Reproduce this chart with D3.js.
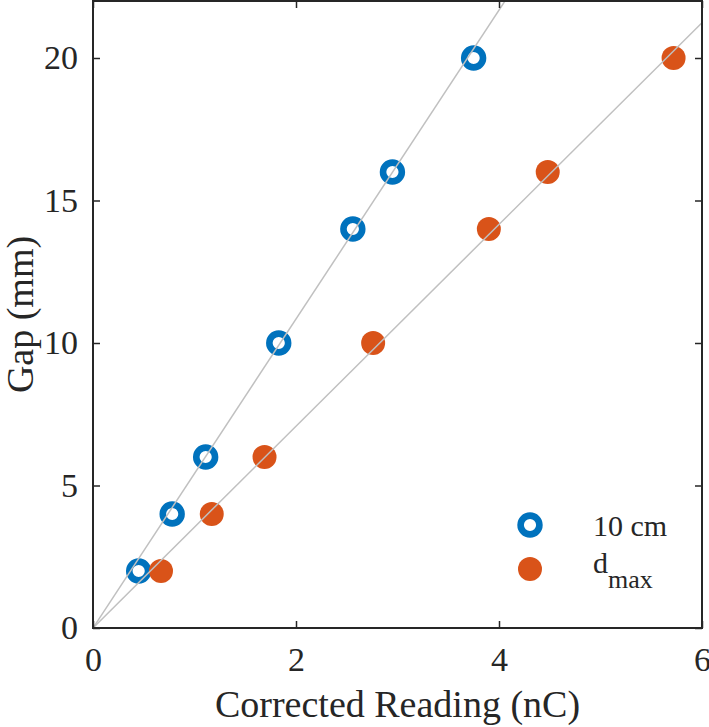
<!DOCTYPE html>
<html><head><meta charset="utf-8">
<script src="https://cdn.jsdelivr.net/npm/d3@7"></script>
<style>body{margin:0;background:#fff}svg{display:block}</style>
</head><body>
<svg id="c" width="709" height="727"></svg>
<script>
const gapMM = [2, 4, 6, 10, 14, 16, 20];
const reading10cm = [0.45, 0.78, 1.11, 1.83, 2.56, 2.95, 3.75];
const readingDmax = [0.67, 1.17, 1.69, 2.76, 3.90, 4.48, 5.72];
const fitSlopes = [5.42, 3.54];
const xTicks = [0, 2, 4, 6];
const yTicks = [0, 5, 10, 15, 20];
const seriesNames = ["10 cm", "d"];

const svg = d3.select("#c");
const m = {l: 93, r: 702, t: 1, b: 628};
const x = d3.scaleLinear().domain([0, 6]).range([m.l, m.r]);
const y = d3.scaleLinear().domain([0, 22]).range([m.b, m.t]);
const axisCol = "#262626";
const font = "'Liberation Serif','Times New Roman',serif";
const blue = "#0072BD", orange = "#D95319";

svg.append("defs").append("clipPath").attr("id", "clip")
  .append("rect").attr("x", m.l).attr("y", m.t).attr("width", m.r - m.l).attr("height", m.b - m.t);

const plot = svg.append("g").attr("clip-path", "url(#clip)");

// markers
plot.selectAll(".b").data(gapMM).enter().append("circle")
  .attr("cx", (d, i) => x(reading10cm[i])).attr("cy", d => y(d)).attr("r", 9.4)
  .attr("fill", "none").attr("stroke", blue).attr("stroke-width", 6.6);
plot.selectAll(".o").data(gapMM).enter().append("circle")
  .attr("cx", (d, i) => x(readingDmax[i])).attr("cy", d => y(d)).attr("r", 12)
  .attr("fill", orange);

// fit lines
fitSlopes.forEach(s => {
  plot.append("line").attr("x1", x(0)).attr("y1", y(0)).attr("x2", x(6)).attr("y2", y(6 * s))
    .attr("stroke", "#c0c0c0").attr("stroke-width", 1.5);
});

// axes
const xa = svg.append("g").attr("transform", `translate(0,${m.b})`)
  .call(d3.axisBottom(x).tickValues(xTicks).tickSizeInner(-7).tickSizeOuter(0).tickPadding(19).tickFormat(d3.format("d")));
const xt = svg.append("g").attr("transform", `translate(0,${m.t})`)
  .call(d3.axisTop(x).tickValues(xTicks).tickSizeInner(-7).tickSizeOuter(0).tickFormat(""));
const ya = svg.append("g").attr("transform", `translate(${m.l},0)`)
  .call(d3.axisLeft(y).tickValues(yTicks).tickSizeInner(-7).tickSizeOuter(0).tickPadding(15).tickFormat(d3.format("d")));
const yr = svg.append("g").attr("transform", `translate(${m.r},0)`)
  .call(d3.axisRight(y).tickValues(yTicks).tickSizeInner(-7).tickSizeOuter(0).tickFormat(""));
[xa, xt, ya, yr].forEach(g => {
  g.select(".domain").remove();
  g.selectAll("line").attr("stroke", axisCol).attr("stroke-width", 1.5);
  g.selectAll("text").attr("fill", axisCol).style("font-family", font).style("font-size", "34px");
});
xa.selectAll("text").attr("dy", "0.71em");
svg.append("rect").attr("x", m.l).attr("y", m.t).attr("width", m.r - m.l).attr("height", m.b - m.t)
  .attr("fill", "none").attr("stroke", axisCol).attr("stroke-width", 2);

// labels
svg.append("text").attr("x", (m.l + m.r) / 2).attr("y", 717).attr("text-anchor", "middle")
  .style("font-family", font).style("font-size", "38px").attr("fill", axisCol).text("Corrected Reading (nC)");
svg.append("text").attr("transform", `translate(33,${(m.t + m.b) / 2}) rotate(-90)`).attr("text-anchor", "middle")
  .style("font-family", font).style("font-size", "38px").attr("fill", axisCol).text("Gap (mm)");

// legend
const lg = svg.append("g");
lg.append("circle").attr("cx", 530).attr("cy", 525).attr("r", 9.4).attr("fill", "none").attr("stroke", blue).attr("stroke-width", 6.6);
lg.append("circle").attr("cx", 530).attr("cy", 569).attr("r", 12).attr("fill", orange);
lg.append("text").attr("x", 593).attr("y", 536).style("font-family", font).style("font-size", "30px").attr("fill", axisCol).text(seriesNames[0]);
const t2 = lg.append("text").attr("x", 593).attr("y", 573).style("font-family", font).style("font-size", "30px").attr("fill", axisCol);
t2.append("tspan").text(seriesNames[1]);
t2.append("tspan").attr("dy", 15).style("font-size", "26px").text("max");
</script>
</body></html>
